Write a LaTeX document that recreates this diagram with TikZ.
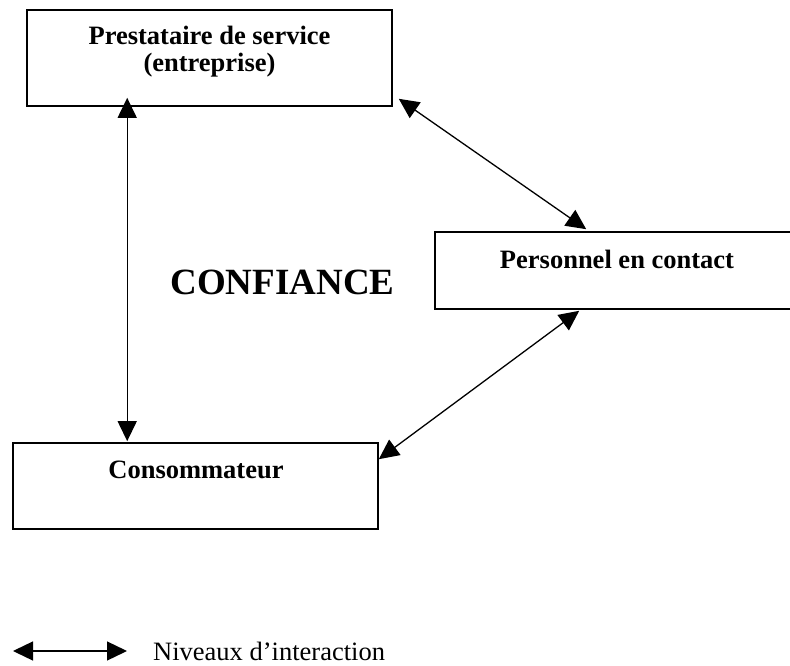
\documentclass[tikz,border=0pt]{standalone}
\usepackage{fontspec}
\setmainfont{Liberation Serif}
\usetikzlibrary{arrows.meta}

\tikzstyle{boite}=[rectangle, draw, line width=1.6pt, minimum width=365pt, inner sep=0pt]
\tikzstyle{titre}=[font=\fontsize{26.5}{27}\selectfont\bfseries, inner sep=0pt, anchor=base]
\tikzstyle{fleche}=[line width=1.3pt, {Triangle[length=20pt,width=19pt]}-{Triangle[length=20pt,width=19pt]}]

\begin{document}
\begin{tikzpicture}[x=1pt, y=-1pt]
    \useasboundingbox (0,0) rectangle (790,666);
    \node[boite, minimum height=96pt] (prest) at (209.5,58) {};
    \node[boite, minimum height=77pt] (perso) at (617.5,270.5) {};
    \node[boite, minimum height=86pt] (conso) at (195.5,486) {};
    \node[titre] (t1) at (209.5,45) {Prestataire de service};
    \node[titre] (t2) at (209.5,72) {(entreprise)};
    \node[titre] (t3) at (617,268) {Personnel en contact};
    \node[titre] (t4) at (196,478) {Consommateur};
    \node[titre, font=\fontsize{37}{40}\selectfont\bfseries] (conf) at (282.5,294) {CONFIANCE};
    \draw[fleche] ([xshift=101pt,yshift=9pt]prest.south west) -- ([xshift=115pt,yshift=1pt]conso.north west);
    \draw[fleche] ([xshift=6pt,yshift=8pt]prest.south east) -- ([xshift=152pt,yshift=2pt]perso.north west);
    \draw[fleche] ([xshift=145pt,yshift=-1pt]perso.south west) -- ([yshift=-17pt]conso.north east);
    % legende
    \coordinate (l1) at (13,651);
    \coordinate (l2) at (127,651);
    \draw[fleche] (l1) -- (l2);
    \node[titre, font=\fontsize{26.5}{27}\selectfont, anchor=base west] (leg) at (153,660) {Niveaux d’interaction};
  \end{tikzpicture}
\end{document}
